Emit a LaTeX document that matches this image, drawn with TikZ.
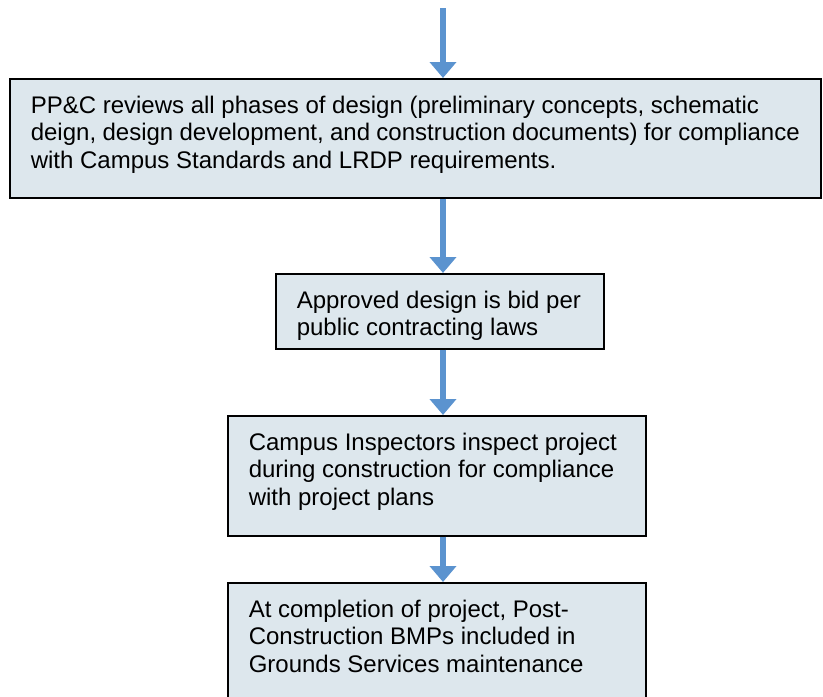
\documentclass[tikz,border=0pt]{standalone}
\usepackage{fontspec}
\setmainfont{Liberation Sans}
\usetikzlibrary{arrows.meta,positioning}

\definecolor{boxfill}{RGB}{221,231,237}
\definecolor{flowblue}{RGB}{91,147,207}

% text block pinned to the top of a box of fixed size
\newcommand{\boxtext}[3]{\vbox to #2{\hsize=#1\parindent=0pt\raggedright #3\par\vss}}

\begin{document}
\begin{tikzpicture}[x=1pt,y=-1pt]
\tikzset{
	stepbox/.style={draw=black, line width=1.6pt, fill=boxfill,
		inner xsep=21pt, inner ysep=17pt, anchor=north west,
		font=\fontsize{24}{27.6}\selectfont},
	flow/.style={draw=flowblue, line width=6pt,
		-{Triangle[width=26pt,length=16pt]}}
}
\useasboundingbox (0,0) rectangle (823,697);

\node[stepbox] (review) at (9,78)
	{\boxtext{769pt}{85pt}{PP\&C reviews all phases of design (preliminary concepts, schematic\\
	deign, design development, and construction documents) for compliance\\
	with Campus Standards and LRDP requirements.}};
\node[stepbox] (bid) at (275,273)
	{\boxtext{286pt}{41pt}{Approved design is bid per\\ public contracting laws}};
\node[stepbox] (inspect) at (227,415)
	{\boxtext{376pt}{86pt}{Campus Inspectors inspect project\\
	during construction for compliance\\ with project plans}};
\node[stepbox] (maint) at (227,582)
	{\boxtext{376pt}{94pt}{At completion of project, Post-\\
	Construction BMPs included in\\ Grounds Services maintenance}};

\coordinate (start) at (443,8);

\draw[flow] (start) -- (start |- review.north);
\draw[flow] (review.south -| start) -- (bid.north -| start);
\draw[flow] (bid.south -| start) -- (inspect.north -| start);
\draw[flow] (inspect.south -| start) -- (maint.north -| start);
\end{tikzpicture}
\end{document}
